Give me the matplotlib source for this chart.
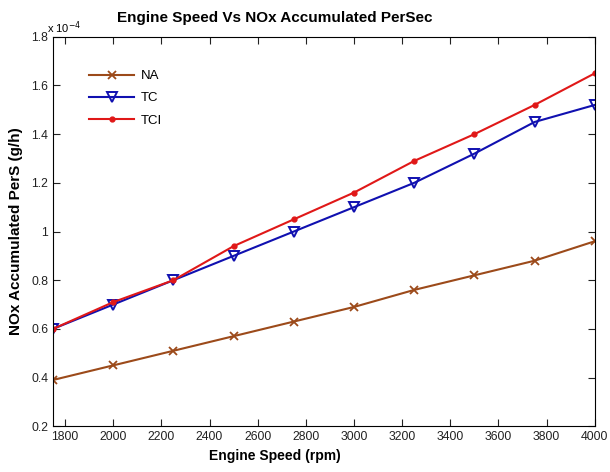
import matplotlib.pyplot as plt
from matplotlib.ticker import FuncFormatter

plt.rcParams['font.family'] = ['Liberation Sans', 'DejaVu Sans']

speed = [1750, 2000, 2250, 2500, 2750, 3000, 3250, 3500, 3750, 4000]
# NOx accumulated per second, in units of 1e-4 g/h
na = [0.39, 0.45, 0.51, 0.57, 0.63, 0.69, 0.76, 0.82, 0.88, 0.96]
tc = [0.60, 0.70, 0.80, 0.90, 1.00, 1.10, 1.20, 1.32, 1.45, 1.52]
tci = [0.60, 0.71, 0.80, 0.94, 1.05, 1.16, 1.29, 1.40, 1.52, 1.65]

fig = plt.figure(figsize=(6.1, 4.72), dpi=100)
ax = fig.add_axes([0.087, 0.097, 0.888, 0.825])

ax.plot(speed, na, color='#9c4a1a', marker='x', markersize=6, mew=1.3, lw=1.5, label='NA')
ax.plot(speed, tc, color='#1010b0', marker='v', markersize=7, mfc='none', mew=1.4, lw=1.5, label='TC')
ax.plot(speed, tci, color='#e01818', marker='o', markersize=3.5, lw=1.5, label='TCI')

ax.set_xlim(1750, 4000)
ax.set_ylim(0.2, 1.8)
ax.set_xticks(range(1800, 4001, 200))
ax.set_yticks([0.2, 0.4, 0.6, 0.8, 1.0, 1.2, 1.4, 1.6, 1.8])
ax.yaxis.set_major_formatter(FuncFormatter(lambda v, p: f'{v:g}'))
ax.tick_params(direction='in', top=True, right=True, labelsize=8.8, length=5, colors='#222222')

ax.text(-0.012, 1.012, r'x 10$^{-4}$', transform=ax.transAxes, fontsize=8)
ax.set_title('Engine Speed Vs NOx Accumulated PerSec', fontsize=11, fontweight='bold',
             pad=11, x=0.41)
ax.set_xlabel('Engine Speed (rpm)', fontsize=10, fontweight='bold', x=0.41)
ax.set_ylabel('NOx Accumulated PerS (g/h)', fontsize=11, fontweight='bold', labelpad=6)

ax.legend(loc='upper left', bbox_to_anchor=(0.045, 0.945), frameon=False, fontsize=9.5,
          handlelength=3.4, labelspacing=0.75, handletextpad=0.5)

fig.savefig('out.png', dpi=100)
